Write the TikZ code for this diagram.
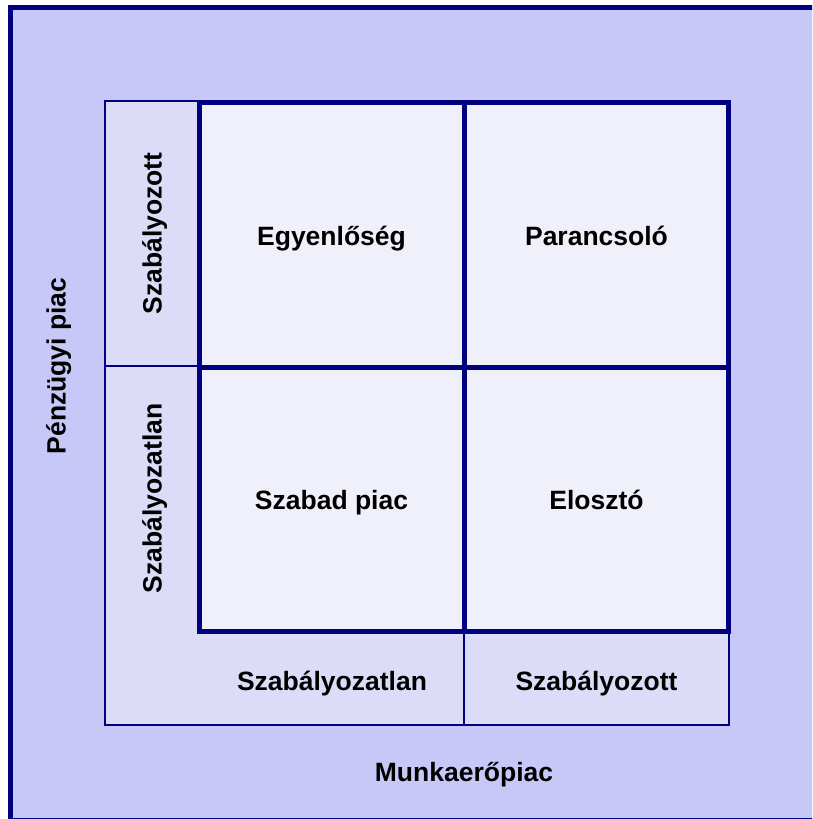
\documentclass[tikz,border=0pt]{standalone}
\usepackage{fontspec}
\setmainfont{Liberation Sans}
\definecolor{navy}{HTML}{000080}
\definecolor{outerbg}{HTML}{C8C8F8}
\definecolor{framebg}{HTML}{DCDCF8}
\definecolor{cellbg}{HTML}{F0F0FA}
\tikzset{
  lbl/.style={inner sep=0pt, anchor=base, font=\fontsize{26.5}{30}\selectfont\bfseries, text=black},
  vlbl/.style={lbl, rotate=90},
  thickline/.style={draw=navy, line width=5pt},
  thinline/.style={draw=navy, line width=1.8pt}
}
\begin{document}
\begin{tikzpicture}[x=1pt,y=-1pt]
\useasboundingbox (0,0) rectangle (812,819);
\clip (0,0) rectangle (812,819);
% outer panel
\draw[fill=outerbg, draw=navy, line width=5pt] (10.5,7.5) rectangle (816,820);
% inner frame
\draw[fill=framebg, thinline] (105,101) rectangle (729.3,725);
% thin dividers in label strips
\draw[thinline] (105,365.7) -- (199.5,365.7);
\draw[thinline] (464,631) -- (464,725);
% grid
\fill[cellbg] (199.5,102.5) rectangle (728.5,631);
\draw[thickline] (199.5,102.5) rectangle (728.5,631);
\draw[thickline] (464.3,102.5) -- (464.3,631);
\draw[thickline] (199.5,367.5) -- (728.5,367.5);
% cell labels
\node[lbl] (eq) at (331.5,245) {Egyenlőség};
\node[lbl] (cmd) at (596.5,245) {Parancsoló};
\node[lbl] (free) at (331.5,509) {Szabad piac};
\node[lbl] (dist) at (596.5,509) {Elosztó};
% bottom labels
\node[lbl] (bu) at (332,690) {Szabályozatlan};
\node[lbl] (br) at (596.5,690) {Szabályozott};
\node[lbl] (labor) at (464,781) {Munkaerőpiac};
% left labels
\node[vlbl] (lr) at (161.5,233.5) {Szabályozott};
\node[vlbl] (lu) at (161.5,498.5) {Szabályozatlan};
\node[vlbl] (fin) at (65.5,366) {Pénzügyi piac};
\end{tikzpicture}
\end{document}
